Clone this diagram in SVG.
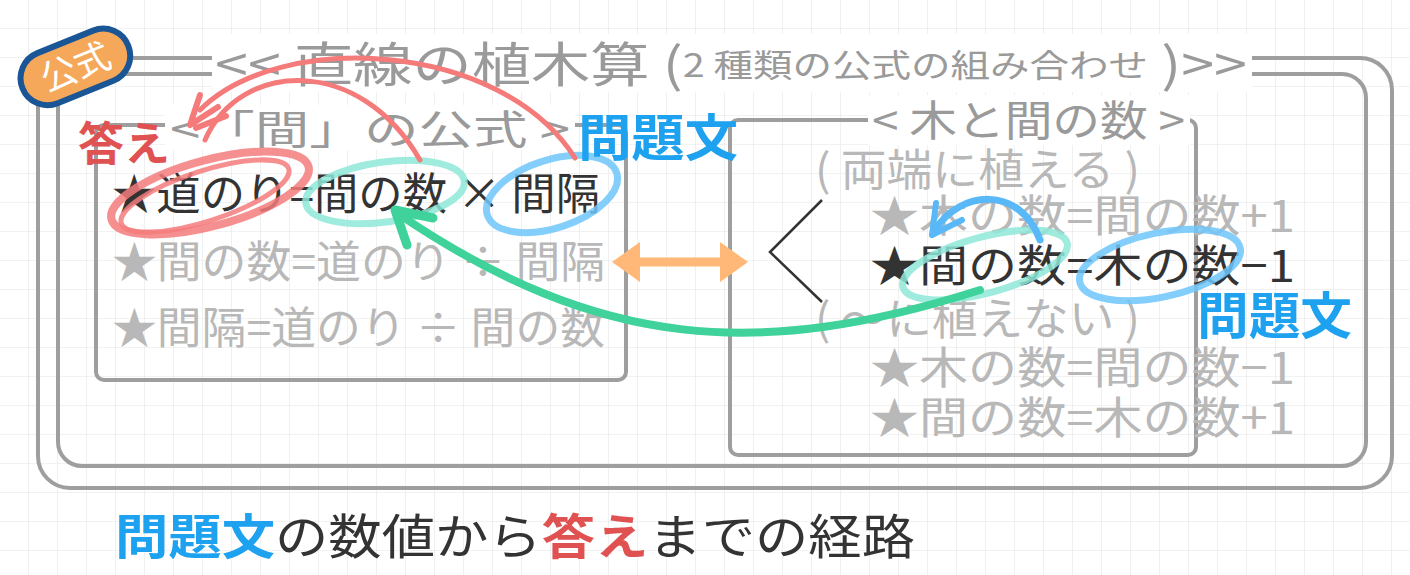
<svg xmlns="http://www.w3.org/2000/svg" width="1410" height="575" viewBox="0 0 1410 575">
<defs>
<pattern id="g" width="29" height="29" patternUnits="userSpaceOnUse"><path d="M29 0V29H0" fill="none" stroke="#e6e6e6" stroke-width="1.2"/></pattern>
<style>
text{font-family:"Noto Sans CJK JP","Noto Sans",sans-serif}
.gray{fill:#b8b8b8;font-size:44px}
.tg{fill:#9a9a9a}
.dark{fill:#333;font-size:44px}
.box{fill:none;stroke:#9e9e9e;stroke-width:4}
.blue{fill:#1ea2f0;font-weight:bold}
.red{fill:#e05252;font-weight:bold}
</style>
</defs>
<rect width="1410" height="575" fill="#fff"/>
<rect width="1410" height="575" fill="url(#g)"/>
<g id="frame">
<rect x="38" y="58" width="1354" height="430" rx="32" class="box"/>
<rect x="58" y="74" width="1308" height="392" rx="24" class="box"/>
<rect x="212" y="34" width="1040" height="58" fill="#fff"/>
<text x="215" y="82" class="tg" font-size="48" textLength="1032" lengthAdjust="spacingAndGlyphs">&lt;&lt; 直線の植木算 (<tspan font-size="32" dy="-5">2 種類の公式の組み合わせ</tspan><tspan dy="5"> )&gt;&gt;</tspan></text>
</g>
<g id="badge" transform="rotate(-22 75 66)">
<rect x="18" y="40" width="114" height="54" rx="27" fill="#f6a85a" stroke="#1a5595" stroke-width="6"/>
<text x="75" y="80" font-size="36" fill="#fff" text-anchor="middle">公式</text>
</g>
<g id="left">
<rect x="96" y="125" width="530" height="255" rx="8" class="box"/>
<rect x="165" y="105" width="410" height="45" fill="#fff"/>
<text x="170" y="144" class="tg" font-size="40" textLength="400" lengthAdjust="spacingAndGlyphs">&lt;「間」の公式 &gt;</text>
<text x="112" y="210" class="dark" textLength="488" lengthAdjust="spacingAndGlyphs">★道のり=間の数 × 間隔</text>
<text x="112" y="278" class="gray" textLength="493" lengthAdjust="spacingAndGlyphs">★間の数=道のり ÷ 間隔</text>
<text x="112" y="344" class="gray" textLength="493" lengthAdjust="spacingAndGlyphs">★間隔=道のり ÷ 間の数</text>
</g>
<g id="right">
<rect x="730" y="120" width="466" height="335" rx="8" class="box"/>
<rect x="868" y="95" width="322" height="50" fill="#fff"/>
<text x="872" y="136" class="tg" font-size="42" textLength="313" lengthAdjust="spacingAndGlyphs">&lt; 木と間の数 &gt;</text>
<text x="815" y="186" class="gray" textLength="325" lengthAdjust="spacingAndGlyphs">( 両端に植える )</text>
<text x="870" y="232" class="gray" textLength="425" lengthAdjust="spacingAndGlyphs">★木の数=間の数+1</text>
<text x="870" y="282" class="dark" textLength="425" lengthAdjust="spacingAndGlyphs">★間の数=木の数−1</text>
<text x="815" y="335" class="gray" textLength="325" lengthAdjust="spacingAndGlyphs">( 〜に植えない )</text>
<text x="870" y="384" class="gray" textLength="425" lengthAdjust="spacingAndGlyphs">★木の数=間の数−1</text>
<text x="870" y="434" class="gray" textLength="425" lengthAdjust="spacingAndGlyphs">★間の数=木の数+1</text>
<polyline points="822,200 770,252 822,302" fill="none" stroke="#333" stroke-width="2.5"/>
</g>
<g id="connectors" fill="none" stroke-linecap="round">
<path d="M625 262H735" stroke="#ffb877" stroke-width="9"/>
<path d="M612 262l28-20v40z M748 262l-28-20v40z" fill="#ffb877" stroke="none"/>
<ellipse cx="210" cy="193" rx="102" ry="33" transform="rotate(-15 210 193)" stroke="#f57b7b" stroke-width="8" opacity=".85"/>
<ellipse cx="205" cy="196" rx="88" ry="25" transform="rotate(-18 205 196)" stroke="#f57b7b" stroke-width="5" opacity=".85"/>
<ellipse cx="385" cy="192" rx="80" ry="30" transform="rotate(-8 385 192)" stroke="#8ee8d8" stroke-width="7" opacity=".85"/>
<ellipse cx="552" cy="194" rx="68" ry="34" transform="rotate(-18 552 194)" stroke="#6fc6fb" stroke-width="7" opacity=".85"/>
<ellipse cx="985" cy="265" rx="85" ry="28" transform="rotate(-15 985 265)" stroke="#8ee8d8" stroke-width="7" opacity=".85"/>
<ellipse cx="1160" cy="265" rx="82" ry="32" transform="rotate(-12 1160 265)" stroke="#6fc6fb" stroke-width="7" opacity=".85"/>
<path d="M420 160C360 55 240 60 205 140" stroke="#f57b7b" stroke-width="5"/>
<path d="M575 158C500 40 280 30 200 110" stroke="#f57b7b" stroke-width="5"/>
<path d="M190 125l10-30M190 125l28-18M196 128l30-12" stroke="#f57b7b" stroke-width="6"/>
<path d="M1040 240C1020 185 960 190 935 230" stroke="#59b8f8" stroke-width="7"/>
<path d="M932 235l4-32M932 235l30-15" stroke="#59b8f8" stroke-width="6"/>
<path d="M980 290C760 360 600 350 400 215" stroke="#3fd29a" stroke-width="8"/>
<path d="M395 210l12 35M395 210l38 8" stroke="#3fd29a" stroke-width="9"/>
</g>
<g id="labels">
<text x="78" y="160" class="red" font-size="46">答え</text>
<text x="578" y="156" class="blue" font-size="50" textLength="160" lengthAdjust="spacingAndGlyphs">問題文</text>
<text x="1197" y="334" class="blue" font-size="50" textLength="155" lengthAdjust="spacingAndGlyphs">問題文</text>
<text x="115" y="554" font-size="48" fill="#333" textLength="800" lengthAdjust="spacingAndGlyphs"><tspan class="blue">問題文</tspan>の数値から<tspan class="red">答え</tspan>までの経路</text>
</g>
</svg>
